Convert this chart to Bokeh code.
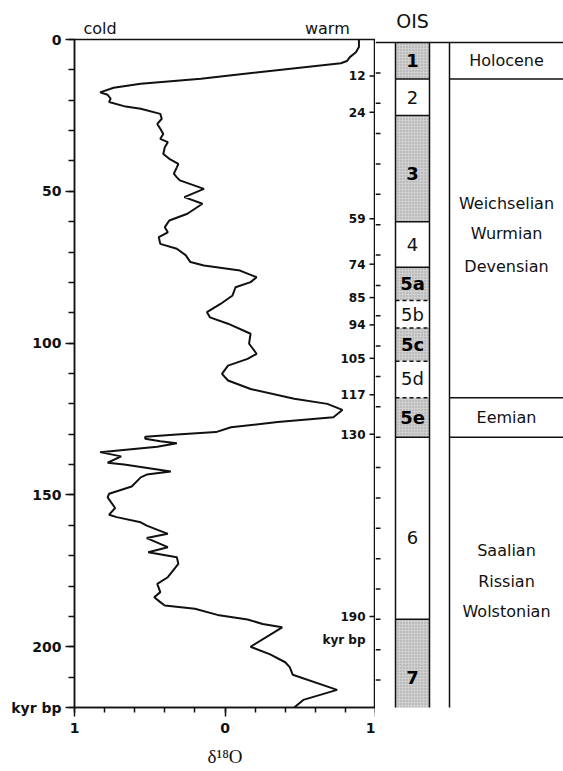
from bokeh.plotting import figure
from bokeh.models import Range1d, LinearAxis, FixedTicker, Span
from bokeh.layouts import row
from bokeh.embed import file_html
from bokeh.resources import INLINE
from bokeh.core.properties import value

# ---------------- data ----------------
age_kyr = [0, 2.5, 4.2, 5.8, 7.1, 7.8, 11.9, 12.9, 14.6, 15.9, 17.4, 18.2, 19.5, 20.6,
           22.1, 22.8, 24.5, 26.1, 27.8, 29.4, 31.1, 32.7, 33.8, 35.5, 37.7, 39.3, 41.0,
           42.1, 44.2, 45.4, 46.4, 49.2, 51.9, 54.1, 57.4, 59.6, 61.8, 63.5, 65.1, 67.3,
           68.9, 71.1, 73.3, 74.4, 76.1, 78.3, 79.9, 81.6, 84.3, 87.1, 89.8, 91.5, 93.6,
           96.9, 100.2, 103.5, 105.2, 107.4, 110.1, 112.3, 115.1, 118.3, 120.0, 122.0,
           124.4, 126.0, 127.7, 129.3, 130.1, 130.8, 131.5, 132.3, 133.0, 134.1, 135.9,
           137.3, 139.4, 140.0, 142.3, 143.3, 144.2, 147.2, 149.6, 150.8, 154.3, 156.5,
           157.3, 159.0, 160.1, 162.8, 164.2, 167.2, 168.9, 170.5, 172.7, 177.1, 179.3,
           182.0, 183.7, 185.3, 186.4, 187.5, 189.5, 191.0, 192.5, 193.6, 200.0, 202.5,
           205.1, 206.7, 209.2, 214.2, 217.5, 220.0]
d18o = [0.89, 0.89, 0.87, 0.83, 0.81, 0.77, 0.015, -0.16, -0.56, -0.74, -0.83, -0.78, -0.76, -0.77,
        -0.66, -0.56, -0.43, -0.42, -0.45, -0.43, -0.41, -0.43, -0.38, -0.40, -0.41, -0.37, -0.31,
        -0.32, -0.34, -0.32, -0.30, -0.14, -0.27, -0.15, -0.25, -0.37, -0.40, -0.38, -0.44, -0.43,
        -0.32, -0.26, -0.23, -0.14, 0.10, 0.21, 0.17, 0.07, 0.05, -0.03, -0.12, -0.10, 0.02,
        0.17, 0.16, 0.21, 0.15, 0.02, -0.02, 0.02, 0.17, 0.46, 0.68, 0.78,
        0.72, 0.35, 0.04, -0.06, -0.32, -0.53, -0.53, -0.43, -0.32, -0.45, -0.83,
        -0.69, -0.78, -0.67, -0.36, -0.52, -0.56, -0.62, -0.77, -0.78, -0.73, -0.77,
        -0.72, -0.56, -0.52, -0.38, -0.52, -0.38, -0.51, -0.32, -0.31, -0.38, -0.45,
        -0.43, -0.47, -0.43, -0.40, -0.20, -0.05, 0.15, 0.25, 0.38, 0.17, 0.30,
        0.40, 0.43, 0.45, 0.745, 0.52, 0.46]

age_major_ticks = [0, 50, 100, 150, 200, 220]
age_minor_ticks = [0, 10, 20, 30, 40, 50, 60, 70, 80, 90, 100, 110, 120, 130, 140, 150,
                   160, 170, 180, 190, 200, 210, 220]
age_label_overrides = {220: "kyr bp"}
d18o_major_ticks = [-1, 0, 1]
d18o_minor_ticks = [-1.0, -0.8, -0.6, -0.4, -0.2, 0.0, 0.2, 0.4, 0.6, 0.8, 1.0]
d18o_tick_labels = {-1: "1", 0: "0", 1: "1"}
end_labels = ["cold", "warm"]
end_label_pos = [-0.83, 0.68]

boundary_ages = [12, 24, 59, 74, 85, 94, 105, 117, 130, 190]

ois_bounds = [0, 12, 24, 59, 74, 85, 94, 105, 117, 130, 190, 219]
ois_labels = ["1", "2", "3", "4", "5a", "5b", "5c", "5d", "5e", "6", "7"]
ois_label_age = [6, 18, 43, 66.5, 79.5, 89.5, 99.5, 110.5, 123.5, 163, 209]
ois_shaded = [True, False, True, False, True, False, True, False, True, False, True]
ois_solid = [12, 24, 59, 74, 130, 190]
ois_dashed = [85, 94, 105, 117]

stage_lines = [12, 117, 130]
stage_names = ["Holocene", "Weichselian", "Wurmian", "Devensian", "Eemian",
               "Saalian", "Rissian", "Wolstonian"]
stage_name_age = [6, 53, 63, 73.9, 123.5, 167.3, 177.5, 187.4]

# ---------------- style ----------------
FONT = "DejaVu Sans"
INK = "#111111"
LW = 1.5

# ---------------- left panel ----------------
p1 = figure(frame_width=301, frame_height=668,
            x_range=Range1d(-1, 1), y_range=Range1d(220, 0),
            min_border_left=74, min_border_right=0, min_border_top=39, min_border_bottom=64,
            x_axis_type=None, y_axis_type=None,
            output_backend="svg", toolbar_location=None)
p1.outline_line_color = INK
p1.outline_line_width = LW
p1.outline_line_alpha = 1.0
p1.background_fill_color = "white"
p1.border_fill_color = "white"

p1.line(d18o, age_kyr, line_width=2, color=INK)

ly = LinearAxis(ticker=FixedTicker(ticks=age_major_ticks, minor_ticks=age_minor_ticks),
                major_label_overrides=age_label_overrides,
                major_tick_out=9, major_tick_in=0, minor_tick_out=6, minor_tick_in=0,
                axis_line_width=LW, major_tick_line_width=LW, minor_tick_line_width=LW,
                axis_line_color=INK, major_tick_line_color=INK, minor_tick_line_color=INK,
                major_label_text_font=FONT, major_label_text_font_style="bold",
                major_label_text_font_size="14px", major_label_text_color=INK,
                major_label_standoff=4)
p1.add_layout(ly, "left")

bx = LinearAxis(ticker=FixedTicker(ticks=d18o_major_ticks, minor_ticks=d18o_minor_ticks),
                major_label_overrides=d18o_tick_labels,
                major_tick_out=9, major_tick_in=0, minor_tick_out=5, minor_tick_in=0,
                axis_line_width=LW, major_tick_line_width=LW, minor_tick_line_width=LW,
                axis_line_color=INK, major_tick_line_color=INK, minor_tick_line_color=INK,
                major_label_text_font=FONT, major_label_text_font_style="bold",
                major_label_text_font_size="14px", major_label_text_color=INK,
                major_label_standoff=6,
                axis_label="δ¹⁸O", axis_label_text_font="Liberation Serif",
                axis_label_text_font_style="normal", axis_label_text_font_size="19px",
                axis_label_text_color=INK, axis_label_standoff=10)
p1.add_layout(bx, "below")

tx = LinearAxis(ticker=FixedTicker(ticks=end_label_pos),
                major_label_overrides=dict(zip(end_label_pos, end_labels)),
                axis_line_color=None, major_tick_line_color=None, minor_tick_line_color=None,
                major_tick_out=0, major_tick_in=0,
                major_label_text_font=FONT, major_label_text_font_size="16px",
                major_label_text_color=INK, major_label_standoff=2)
p1.add_layout(tx, "above")

# inward ticks at the stage boundaries on the right edge, with their ages
p1.ray(x=[1] * len(boundary_ages), y=boundary_ages, length=6, length_units="screen",
       angle=180, angle_units="deg", line_color=INK, line_width=LW)
p1.text(x=[1] * len(boundary_ages), y=boundary_ages, text=[str(a) for a in boundary_ages],
        x_offset=-10, text_align="right", text_baseline="middle",
        text_font=value(FONT), text_font_style="bold", text_font_size="12px", text_color=INK)
p1.text(x=[1], y=[boundary_ages[-1]], text=["kyr bp"], x_offset=-10, y_offset=24,
        text_align="right", text_baseline="middle",
        text_font=value(FONT), text_font_style="bold", text_font_size="12px", text_color=INK)

# ---------------- right panel (OIS + stages) ----------------
X0, X1 = 375, 563          # page-pixel coordinates of this panel
COL_L, COL_R, STAGE_X = 395, 429, 449
COL_MID = (COL_L + COL_R) / 2
STAGE_MID = (STAGE_X + X1) / 2

p2 = figure(frame_width=X1 - X0, frame_height=677,
            x_range=Range1d(X0, X1), y_range=Range1d(222, -1),
            min_border_left=0, min_border_right=0, min_border_top=36, min_border_bottom=58,
            x_axis_type=None, y_axis_type=None,
            output_backend="svg", toolbar_location=None)
p2.outline_line_color = None
p2.background_fill_color = "white"
p2.border_fill_color = "white"

tops = ois_bounds[:-1]
bots = ois_bounds[1:]
sh_t = [t for t, s in zip(tops, ois_shaded) if s]
sh_b = [b for b, s in zip(bots, ois_shaded) if s]
p2.quad(left=COL_L, right=COL_R, top=sh_t, bottom=sh_b,
        fill_color="#d0d0d0", line_color=None,
        hatch_pattern="dot", hatch_color="#858585", hatch_scale=3, hatch_weight=1, hatch_alpha=0.7)

p2.segment(x0=[COL_L, COL_R, STAGE_X], y0=[0, 0, 0],
           x1=[COL_L, COL_R, STAGE_X], y1=[ois_bounds[-1]] * 3,
           line_color=INK, line_width=LW)
p2.segment(x0=[COL_L] * len(ois_solid), y0=ois_solid, x1=[COL_R] * len(ois_solid), y1=ois_solid,
           line_color=INK, line_width=LW)
p2.segment(x0=[COL_L] * len(ois_dashed), y0=ois_dashed, x1=[COL_R] * len(ois_dashed), y1=ois_dashed,
           line_color=INK, line_width=LW, line_dash="4 3")
p2.segment(x0=[STAGE_X] * len(stage_lines), y0=stage_lines, x1=[X1] * len(stage_lines), y1=stage_lines,
           line_color=INK, line_width=LW)
p2.add_layout(Span(location=0, dimension="width", line_color=INK, line_width=LW))

# outward ticks every 10 kyr on the right edge of the left panel
out_ticks = age_minor_ticks[1:-1]
p2.ray(x=[X0] * len(out_ticks), y=out_ticks, length=5, length_units="screen",
       angle=0, angle_units="deg", line_color=INK, line_width=LW)

ax = LinearAxis(ticker=FixedTicker(ticks=[COL_MID]), major_label_overrides={COL_MID: "OIS"},
                axis_line_color=None, major_tick_line_color=None, minor_tick_line_color=None,
                major_tick_out=0, major_tick_in=0,
                major_label_text_font=FONT, major_label_text_font_size="19px",
                major_label_text_color=INK, major_label_standoff=8)
p2.add_layout(ax, "above")

lab_dark = [(a, t) for a, t, s in zip(ois_label_age, ois_labels, ois_shaded) if s]
lab_light = [(a, t) for a, t, s in zip(ois_label_age, ois_labels, ois_shaded) if not s]
p2.text(x=[COL_MID] * len(lab_dark), y=[a for a, _ in lab_dark], text=[t for _, t in lab_dark],
        text_align="center", text_baseline="middle", text_font=value(FONT),
        text_font_style="bold", text_font_size="18px", text_color="#000000")
p2.text(x=[COL_MID] * len(lab_light), y=[a for a, _ in lab_light], text=[t for _, t in lab_light],
        text_align="center", text_baseline="middle", text_font=value(FONT),
        text_font_size="18px", text_color=INK)

p2.text(x=[STAGE_MID] * len(stage_names), y=stage_name_age, text=stage_names,
        text_align="center", text_baseline="middle", text_font=value(FONT),
        text_font_size="16px", text_color=INK)

layout = row(p1, p2)
open("out.html", "w").write(file_html(layout, INLINE))
